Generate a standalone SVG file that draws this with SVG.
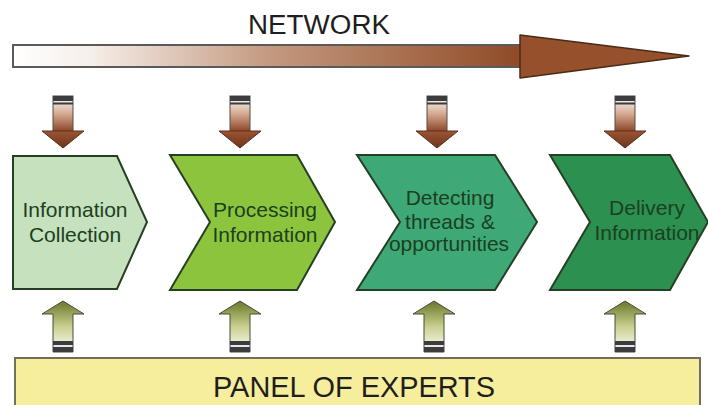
<svg xmlns="http://www.w3.org/2000/svg" width="708" height="405" viewBox="0 0 708 405">
  <defs>
    <linearGradient id="netGrad" x1="0" y1="0" x2="1" y2="0">
      <stop offset="0" stop-color="#ffffff"/>
      <stop offset="0.15" stop-color="#f6efea"/>
      <stop offset="0.5" stop-color="#c49a80"/>
      <stop offset="1" stop-color="#8f4a26"/>
    </linearGradient>
    <linearGradient id="downGrad" x1="0" y1="0" x2="0" y2="1">
      <stop offset="0" stop-color="#ffffff"/>
      <stop offset="0.5" stop-color="#d3a890"/>
      <stop offset="1" stop-color="#8a4324"/>
    </linearGradient>
    <linearGradient id="downHead" x1="0" y1="0" x2="0" y2="1">
      <stop offset="0" stop-color="#9b5533"/>
      <stop offset="1" stop-color="#6e331a"/>
    </linearGradient>
    <linearGradient id="upGrad" x1="0" y1="1" x2="0" y2="0">
      <stop offset="0" stop-color="#ffffff"/>
      <stop offset="0.5" stop-color="#c9cf8e"/>
      <stop offset="1" stop-color="#69772a"/>
    </linearGradient>
    <style>
      .node-text { font-family: "Liberation Sans", Arial, sans-serif; font-size: 21px; fill: #1b4020; text-anchor: middle; }
      .chev { stroke: #263f24; stroke-width: 2; stroke-linejoin: miter; }
      .title { font-family: "Liberation Sans", Arial, sans-serif; fill: #1e1e1e; text-anchor: middle; }
      .shaft-d { fill: url(#downGrad); stroke: #5a4a44; stroke-width: 1; }
      .head-d { fill: url(#downHead); stroke: #5a3020; stroke-width: 1; }
      .shaft-u { fill: url(#upGrad); stroke: #4a4a3a; stroke-width: 1; }
      .cap { fill: #3c3c3c; }
      .capline { fill: #e8e8e8; }
    </style>
    <g id="downArrow">
      <rect class="shaft-d" x="-10" y="96" width="20" height="36"/>
      <rect class="cap" x="-10" y="96" width="20" height="5"/>
      <rect class="capline" x="-9" y="101" width="18" height="1.5"/>
      <rect class="cap" x="-10" y="102.5" width="20" height="2"/>
      <path class="head-d" d="M-21,131 L21,131 L0,148 Z"/>
    </g>
    <g id="upArrow">
      <path class="shaft-u" d="M0,301 L21,314 L10,314 L10,352 L-10,352 L-10,314 L-21,314 Z"/>
      <rect class="cap" x="-10" y="341" width="20" height="4"/>
      <rect class="capline" x="-9" y="345" width="18" height="2"/>
      <rect class="cap" x="-10" y="347" width="20" height="5"/>
    </g>
  </defs>

  <rect width="708" height="405" fill="#ffffff"/>

  <g id="network">
    <text class="title" x="319" y="34" font-size="27" textLength="142" lengthAdjust="spacingAndGlyphs">NETWORK</text>
    <rect x="13" y="45" width="509" height="22" fill="url(#netGrad)" stroke="#5a5a5a" stroke-width="2"/>
    <path d="M520,35 L689,56 L520,78 Z" fill="#96502b" stroke="#4a2a18" stroke-width="1.5" stroke-linejoin="round"/>
  </g>

  <g id="n1">
    <path class="chev" d="M13,156 L117,156 L147,222 L117,289 L13,289 Z" fill="#c6e1be"/>
    <text class="node-text" x="75" y="217">Information</text>
    <text class="node-text" x="75" y="242">Collection</text>
  </g>
  <g id="n2">
    <path class="chev" d="M170,155 L297,155 L335,222 L297,290 L170,290 L210,222 Z" fill="#8dc43e"/>
    <text class="node-text" x="265" y="217">Processing</text>
    <text class="node-text" x="265" y="242">Information</text>
  </g>
  <g id="n3">
    <path class="chev" d="M357,155 L495,155 L537,222 L495,290 L357,290 L400,222 Z" fill="#3ea877"/>
    <text class="node-text" x="450" y="205">Detecting</text>
    <text class="node-text" x="450" y="229">threads &amp;</text>
    <text class="node-text" x="449" y="251">opportunities</text>
  </g>
  <g id="n4">
    <path class="chev" d="M550,155 L670,155 L708,222 L670,290 L550,290 L590,222 Z" fill="#2b9050"/>
    <text class="node-text" x="647" y="215">Delivery</text>
    <text class="node-text" x="647" y="240">Information</text>
  </g>

  <g id="panel">
    <rect x="15" y="358" width="685" height="60" fill="#f6ee9c" stroke="#6f6f5a" stroke-width="2"/>
    <text class="title" x="354" y="397" font-size="30" fill="#2a2a12" textLength="282" lengthAdjust="spacingAndGlyphs">PANEL OF EXPERTS</text>
  </g>

  <g id="connectors">
    <use href="#downArrow" x="63"/>
    <use href="#downArrow" x="240"/>
    <use href="#downArrow" x="437"/>
    <use href="#downArrow" x="625"/>
    <use href="#upArrow" x="63"/>
    <use href="#upArrow" x="240"/>
    <use href="#upArrow" x="434"/>
    <use href="#upArrow" x="625"/>
  </g>
</svg>
